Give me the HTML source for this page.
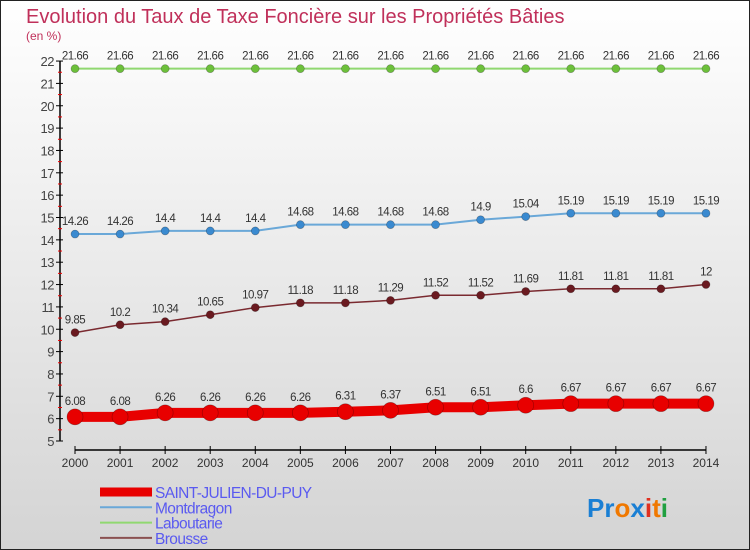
<!DOCTYPE html>
<html><head><meta charset="utf-8"><style>
body{margin:0}
#c{width:750px;height:550px;position:relative;box-sizing:border-box;border:1px solid #222;background:linear-gradient(#ffffff,#d4d4d4);font-family:"Liberation Sans",sans-serif;overflow:hidden}
svg text{font-family:"Liberation Sans",sans-serif}
</style></head><body>
<div id="c">
<svg id="s" width="750" height="550" style="position:absolute;left:-1px;top:-1px">
<text x="26" y="23" font-size="20" fill="#c0305a">Evolution du Taux de Taxe Foncière sur les Propriétés Bâties</text>
<text x="26" y="40" font-size="12" fill="#c0305a">(en %)</text>
<g id="g"></g>
<text x="587" y="517" font-size="26" font-weight="bold"><tspan fill="#1a7fd4">Pr</tspan><tspan fill="#f07800">o</tspan><tspan fill="#1a7fd4">x</tspan><tspan fill="#e03020">i</tspan><tspan fill="#f07800">t</tspan><tspan fill="#20a040">i</tspan></text>
</svg>
</div>
<script>
const years=["2000","2001","2002","2003","2004","2005","2006","2007","2008","2009","2010","2011","2012","2013","2014"];
const yTicks=[5,6,7,8,9,10,11,12,13,14,15,16,17,18,19,20,21,22];
const stJulien=[6.08,6.08,6.26,6.26,6.26,6.26,6.31,6.37,6.51,6.51,6.6,6.67,6.67,6.67,6.67];
const montdragon=[14.26,14.26,14.4,14.4,14.4,14.68,14.68,14.68,14.68,14.9,15.04,15.19,15.19,15.19,15.19];
const laboutarie=[21.66,21.66,21.66,21.66,21.66,21.66,21.66,21.66,21.66,21.66,21.66,21.66,21.66,21.66,21.66];
const brousse=[9.85,10.2,10.34,10.65,10.97,11.18,11.18,11.29,11.52,11.52,11.69,11.81,11.81,11.81,12];
const seriesNames=["SAINT-JULIEN-DU-PUY","Montdragon","Laboutarie","Brousse"];
const NS="http://www.w3.org/2000/svg";
const g=document.getElementById('g');
const X=i=>75+i*45.07;
const Y=v=>441-(v-5)*22.35;
function el(t,a,p){const e=document.createElementNS(NS,t);for(const k in a)e.setAttribute(k,a[k]);(p||g).appendChild(e);return e;}
let e=el('line',{x1:60,y1:Y(22),x2:60,y2:Y(5),stroke:'#000','stroke-width':1.5});


e=el('line',{x1:X(0),y1:450,x2:X(14),y2:450,stroke:'#000','stroke-width':1.5});


yTicks.forEach(v=>{
 el('line',{x1:56,y1:Y(v),x2:63,y2:Y(v),stroke:'#000'});
 if(v<22)el('line',{x1:58,y1:Y(v+0.5),x2:62,y2:Y(v+0.5),stroke:'#e00'});
 const t=el('text',{x:54,y:Y(v)+5,'font-size':13,fill:'#444','text-anchor':'end','letter-spacing':'-0.5'});
 t.textContent=v;
 
 
});
years.forEach((y,i)=>{
 el('line',{x1:X(i),y1:446,x2:X(i),y2:454,stroke:'#000'});
 const t=el('text',{x:X(i),y:467,'font-size':12,fill:'#333','text-anchor':'middle'});
 t.textContent=y;
 
 
});
function series(d,col,w,r,dot,name){
 const p=el('polyline',{points:d.map((v,i)=>X(i)+','+Y(v)).join(' '),fill:'none',stroke:col,'stroke-width':w});
 
 
 d.forEach((v,i)=>{
  const c=el('circle',{cx:X(i),cy:Y(v),r:r,fill:dot,stroke:'rgba(0,0,0,0.3)','stroke-width':0.7});
  
  
  const t=el('text',{x:X(i),y:Y(v)-(r>5?12:9),'font-size':11.5,fill:'#333','text-anchor':'middle','letter-spacing':'-0.5'});
  t.textContent=v;
  
  
 });
}
series(laboutarie,'#90d870',2,4,'#6cc03a','laboutarie');
series(montdragon,'#6aa8d8',2,4,'#3a8ad0','montdragon');
series(brousse,'#7a2a30',1.5,4,'#6a1a20','brousse');
series(stJulien,'#e80000',10,8,'#e80000','saint-julien');
const lc=['#e80000','#6aa8d8','#90d870','#8a5050'],lw=[9,2,2,2];
seriesNames.forEach((n,i)=>{
 const y=492+i*15.3;
 el('line',{x1:100,y1:y,x2:152,y2:y,stroke:lc[i],'stroke-width':lw[i]});
 const t=el('text',{x:155,y:y+6,'font-size':15.5,fill:'#5a5af0','letter-spacing':'-0.6'});
 t.textContent=n;
 
 
});
</script>
</body></html>
